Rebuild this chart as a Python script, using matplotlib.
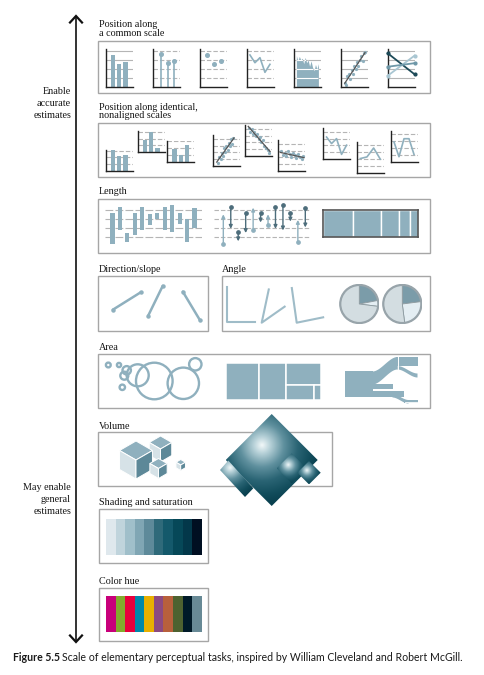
import numpy as np
import matplotlib
matplotlib.use("Agg")
import matplotlib.pyplot as plt
from matplotlib.patches import Rectangle, Polygon, Circle
from matplotlib.colors import LinearSegmentedColormap

# ---------------- data ----------------
# Position along a common scale
bar_vals = [3.56, 2.56, 2.78]
lollipop_vals = [3.63, 2.63, 2.89]
dot_vals = [3.6, 2.6, 2.85]
line_vals = [3.56, 2.7, 3.26, 1.63, 2.52]
area_vals = [3.5, 2.9, 3.4, 3.0, 3.2, 2.6, 3.3, 2.7, 3.0, 2.3, 2.9, 2.2, 1.8, 2.5, 2.0, 2.6]
scatter_x = [1.5, 2.0, 2.5, 3.1, 3.6, 4.0, 4.5, 5.0, 5.5, 6.0, 6.5, 7.0, 7.6, 8.1, 8.6, 9.0]
scatter_y = [0.5, 0.2, 1.2, 1.5, 0.9, 1.9, 1.4, 2.3, 2.0, 2.8, 2.3, 3.0, 3.5, 2.9, 3.8, 3.9]
slope_start = [3.75, 1.25, 2.25]
slope_end = [1.40, 3.50, 2.65]

# Position along identical, nonaligned scales
na_bars = [[3.1, 2.2, 2.35], [1.8, 3.0, 0.7], [1.85, 1.0, 2.45]]
na_scatter_x = [
    [1.8, 2.2, 2.9, 3.3, 3.8, 4.2, 4.6, 5.1, 5.5, 5.9, 6.4, 6.8, 7.2, 7.6],
    [1.5, 2.0, 2.6, 3.0, 3.5, 4.1, 4.6, 5.0, 5.6, 6.1, 6.6, 7.2, 7.8, 8.5, 9.0],
    [1.0, 1.6, 2.3, 2.9, 3.5, 4.2, 4.8, 5.4, 6.0, 6.7, 7.3, 8.0, 8.6, 9.2],
]
na_scatter_y = [
    [0.5, 1.3, 1.0, 1.9, 1.5, 2.6, 2.0, 2.9, 2.4, 3.4, 3.0, 3.9, 3.3, 4.1],
    [4.1, 3.6, 3.9, 3.2, 3.6, 2.9, 3.3, 2.5, 2.8, 2.0, 2.3, 1.5, 1.2, 0.9, 0.5],
    [2.9, 2.4, 2.7, 2.2, 2.9, 2.5, 2.0, 2.6, 2.3, 1.9, 2.5, 2.1, 1.7, 2.2],
]
na_lines = [[3.23, 2.27, 3.0, 0.68, 2.03], [2.08, 2.32, 3.63, 1.99], [2.9, 0.73, 3.38, 3.38, 1.07]]

# Length
float_low = [0.26, 1.73, 0.41, 1.25, 1.73, 2.35, 2.97, 1.73, 1.51, 2.46, 0.41, 2.00]
float_high = [3.63, 4.29, 1.44, 3.63, 4.29, 3.56, 3.63, 4.29, 4.55, 3.63, 3.00, 4.18]
arrow_start = [0.26, 4.37, 1.51, 3.63, 1.73, 3.63, 2.28, 4.37, 4.55, 3.63, 0.41, 4.18]
arrow_end = [3.52, 1.91, 0.52, 1.44, 4.26, 2.61, 3.52, 1.91, 1.73, 2.72, 2.90, 2.06]
stack_vals = [30, 28, 18, 11, 8]

# Direction / angle
slope_angles = [32, 64, -59]
angle_arms = [(0, 90), (35, 78), (11.5, 98)]
pie_a = [22, 5, 73]
pie_b = [23, 25, 52]

# Area
circle_r = [2.4, 2.1, 4.2, 4.0, 11.0, 18.3, 15.7, 6.2, 2.7]
treemap_vals = [10.6, 9.0, 6.8, 3.5, 0.9]

# Volume
cube_sizes = [13, 19, 10, 5.5]

# Shading / hue
shade_colors = ["#dfe8ed", "#c0d4dc", "#a0bfca", "#80a6b4", "#5e8a9a",
                "#2f6a7a", "#14596b", "#064858", "#03384a", "#000f22"]
hue_colors = ["#c8007a", "#82ac2c", "#e8003c", "#0088aa", "#e8b000",
              "#8c4a80", "#b8603c", "#4e6230", "#001a28", "#688a96"]

# ---------------- style ----------------
BLUE = "#8fb0be"
GRID = "#b5b5b5"
BOX = "#a6a6a6"
SERIF = "Liberation Serif"
TS = 7.3

W, H = 484, 675
fig = plt.figure(figsize=(W / 100, H / 100), dpi=100)
ax = fig.add_axes([0, 0, 1, 1])
ax.axis("off")


def sub(x, y, w, h):
    a = fig.add_axes([x / W, 1 - (y + h) / H, w / W, h / H])
    a.patch.set_alpha(0)
    a.set_xticks([])
    a.set_yticks([])
    return a


def mini(x, y, w, h, xlim, ylim, grid=(1, 2, 3, 4), dashed=False):
    a = sub(x, y, w, h)
    a.set_xlim(*xlim)
    a.set_ylim(*ylim)
    for s in ["top", "right"]:
        a.spines[s].set_visible(False)
    for s in ["left", "bottom"]:
        a.spines[s].set_color("#222222")
        a.spines[s].set_linewidth(1.0)
    for g in grid:
        a.axhline(g, color=GRID, lw=0.8, ls=(0, (4, 1.8)) if dashed else "-", zorder=0)
    return a


def box(x0, y0, x1, y1):
    ax.add_patch(Rectangle((x0, y0), x1 - x0, y1 - y0, fill=False, ec=BOX, lw=1.0, zorder=1))


def title(x, y, s):
    ax.text(x, y, s, fontfamily=SERIF, fontsize=TS, va="center", ha="left", color="#151515")


# ---------------- left arrow ----------------
ax.plot([76, 76], [17, 641], color="#111111", lw=1.2, solid_capstyle="butt")
ax.plot([70, 76, 82], [22.5, 16, 22.5], color="#111111", lw=1.6, solid_joinstyle="miter")
ax.plot([70, 76, 82], [635.5, 642, 635.5], color="#111111", lw=1.6, solid_joinstyle="miter")
for yy, s in zip([92, 104, 116], ["Enable", "accurate", "estimates"]):
    ax.text(71, yy, s, fontfamily=SERIF, fontsize=TS, ha="right", va="center", color="#151515")
for yy, s in zip([488, 499.5, 511], ["May enable", "general", "estimates"]):
    ax.text(71, yy, s, fontfamily=SERIF, fontsize=TS, ha="right", va="center", color="#151515")

# ---------------- Position along a common scale ----------------
title(99, 24.5, "Position along")
title(99, 34, "a common scale")
box(98, 41, 430, 93)
y0, hh, ww = 49, 38, 27
top = hh / 9.0
xs = [105.7 + 47 * i for i in range(7)]
cat = np.arange(3)

a = mini(xs[0], y0, ww, hh, (-1.1, 3.1), (0, top))
a.bar(cat, bar_vals, width=0.68, color=BLUE, zorder=2)

a = mini(xs[1], y0, ww, hh, (-1.2, 2.8), (0, top), dashed=True)
a.vlines(cat, 0, lollipop_vals, color=BLUE, lw=1.2, zorder=2)
a.plot(cat, lollipop_vals, "o", color=BLUE, ms=2.6, zorder=3)

a = mini(xs[2], y0, ww, hh, (-1.1, 2.9), (0, top), dashed=True)
a.plot(cat, dot_vals, "o", color=BLUE, ms=2.6, zorder=3)

a = mini(xs[3], y0, ww, hh, (-0.65, 4.75), (0, top), dashed=True)
a.plot(np.arange(len(line_vals)), line_vals, color=BLUE, lw=1.2, zorder=3)

a = mini(xs[4], y0, ww, hh, (-1.84, 16.57), (0, top))
ax_x = np.arange(len(area_vals))
poly = a.fill_between(ax_x, 0, area_vals, color=BLUE, lw=0, zorder=2)
for g in (1, 2, 3, 4):
    ln = a.axhline(g, color="white", lw=0.8, zorder=3)
    ln.set_clip_path(poly.get_paths()[0], poly.get_transform())

a = mini(xs[5], y0, ww, hh, (0, 10), (0, top))
a.plot(scatter_x, scatter_y, "o", color=BLUE, ms=1.3, zorder=2)
k, b = np.polyfit(scatter_x, scatter_y, 1)
lx = np.array([min(scatter_x), max(scatter_x)])
a.plot(lx, k * lx + b, color="#555555", lw=0.9, zorder=3)

a = mini(xs[6], y0, ww, hh, (0, 1), (0, top))
for s0, s1, c in zip(slope_start, slope_end, ["#1d4a58", "#a9c6d2", "#6f98a8"]):
    a.plot([0.0, 1.0], [s0, s1], color=c, lw=1.3, marker="o", ms=2, zorder=3, clip_on=False)

# ---------------- Position along identical, nonaligned scales ----------------
title(99, 107, "Position along identical,")
title(99, 116, "nonaligned scales")
box(98, 123, 430, 177)
U = 6.8
bar_pos = [(105.7, 150), (137.7, 131.3), (167.3, 140.7)]
for (x, y), vals in zip(bar_pos, na_bars):
    a = mini(x, y, 27, 21, (-1.1, 3.1), (0, 21 / U), grid=(1, 2, 3), dashed=True)
    a.bar(cat, vals, width=0.68, color=BLUE, zorder=2)

sc_pos = [(212.7, 135), (245, 125), (278.3, 140)]
for (x, y), sx, sy in zip(sc_pos, na_scatter_x, na_scatter_y):
    a = mini(x, y, 27, 31, (0, 10), (0, 31 / U), dashed=True)
    a.plot(sx, sy, "o", color=BLUE, ms=1.3, zorder=2)
    k, b = np.polyfit(sx, sy, 1)
    lx = np.array([min(sx) - 0.3, max(sx) + 0.3])
    a.plot(lx, k * lx + b, color="#555555", lw=0.9, zorder=3)

ln_pos = [(323.3, 128, (-0.65, 4.75)), (357.3, 141.7, (-0.45, 3.6)), (391.3, 130.7, (-0.54, 4.86))]
for (x, y, xl), vals in zip(ln_pos, na_lines):
    a = mini(x, y, 27, 31, xl, (0, 31 / U), dashed=True)
    a.plot(np.arange(len(vals)), vals, color=BLUE, lw=1.2, zorder=3)

# ---------------- Length ----------------
title(99, 192, "Length")
box(98, 199, 430, 253)
idx = np.arange(12)
a = sub(105, 201, 97, 45)
a.axis("off")
a.set_xlim(-1, 12)
a.set_ylim(0, 5)
for g in (1, 2, 3, 4):
    a.axhline(g, color=GRID, lw=0.8, ls=(0, (7, 2)), zorder=0)
a.bar(idx, np.array(float_high) - np.array(float_low), bottom=float_low, width=0.55, color=BLUE, zorder=2)

a = sub(214, 201, 96, 45)
a.axis("off")
a.set_xlim(-1.25, 11.63)
a.set_ylim(0, 5)
for g in (1, 2, 3, 4):
    a.axhline(g, color=GRID, lw=0.8, ls=(0, (4, 1.8)), zorder=0)
for i, s0, s1 in zip(idx, arrow_start, arrow_end):
    c = BLUE if s1 > s0 else "#4d6d7b"
    a.annotate("", xy=(i, s1), xytext=(i, s0),
               arrowprops=dict(arrowstyle="-|>", color=c, lw=1.0, mutation_scale=5,
                               shrinkA=0, shrinkB=0), zorder=3)
    a.plot(i, s0, "o", color=c, ms=2.4, zorder=3)

a = sub(323.3, 210, 95, 27.3)
cum = np.concatenate([[0], np.cumsum(stack_vals)[:-1]])
a.barh(0, stack_vals, left=cum, height=1, color=BLUE, edgecolor="white", lw=1.0)
a.set_xlim(0, sum(stack_vals))
a.set_ylim(-0.5, 0.5)
for s in a.spines.values():
    s.set_color("#555555")
    s.set_linewidth(1.2)
    s.set_zorder(5)

# ---------------- Direction / slope ----------------
title(99, 270, "Direction/slope")
box(98, 276, 208.3, 330.7)
dir_centers = [(126.8, 301), (155.5, 300.7), (191.3, 305.8)]
L = 33
for (cx, cy), ang in zip(dir_centers, slope_angles):
    t = np.deg2rad(ang)
    dx, dy = L / 2 * np.cos(t), -L / 2 * np.sin(t)
    ax.plot([cx - dx, cx + dx], [cy - dy, cy + dy], color=BLUE, lw=1.8,
            marker="o", ms=2.2, solid_capstyle="round", zorder=3)

# ---------------- Angle ----------------
title(221.7, 270, "Angle")
box(221.7, 276, 430, 330.7)
vertices = [(227.3, 321.7), (261.7, 322.7), (296.7, 322.7)]
arm_len = [(28, 35), (28, 34), (27, 35)]
for (vx, vy), (a0, a1), (l0, l1) in zip(vertices, angle_arms, arm_len):
    p0 = (vx + l0 * np.cos(np.deg2rad(a0)), vy - l0 * np.sin(np.deg2rad(a0)))
    p1 = (vx + l1 * np.cos(np.deg2rad(a1)), vy - l1 * np.sin(np.deg2rad(a1)))
    ax.plot([p0[0], vx, p1[0]], [p0[1], vy, p1[1]], color="#9fbcc8", lw=1.5, zorder=3)

pie_cols = ["#7b9ca9", "#e4eef3", "#d3dde1"]
for cx, vals in zip([359.3, 402.3], [pie_a, pie_b]):
    a = sub(cx - 20, 284, 40, 40)
    a.axis("off")
    a.pie(vals, colors=pie_cols, startangle=90, counterclock=False, radius=1,
          wedgeprops=dict(edgecolor="#8c9aa0", linewidth=0.6))
    a.add_patch(Circle((0, 0), 1, fill=False, ec="#98a4aa", lw=1.6))
    a.set_xlim(-1.05, 1.05)
    a.set_ylim(-1.05, 1.05)
    a.set_aspect("equal")

# ---------------- Area ----------------
title(99, 348, "Area")
box(98, 354.3, 430, 407.7)
circle_c = [(108.3, 365), (119, 365), (126.7, 370.3), (124.3, 375.7), (137.7, 375.3),
            (154.3, 381), (183.3, 383.3), (195.3, 364.3), (122.3, 387.3)]
for (cx, cy), r in zip(circle_c, circle_r):
    ax.add_patch(Circle((cx, cy), r, fill=False, ec=BLUE, lw=1.7, zorder=3))

# treemap
tx0, ty0, tw, th = 226, 362.7, 95, 37.3
tot = sum(treemap_vals)
wA = tw * treemap_vals[0] / tot
wB = tw * treemap_vals[1] / tot
wC = tw - wA - wB
rest = sum(treemap_vals[2:])
hC = th * treemap_vals[2] / rest
wD = wC * treemap_vals[3] / (treemap_vals[3] + treemap_vals[4])
rects = [(tx0, ty0, wA, th), (tx0 + wA, ty0, wB, th), (tx0 + wA + wB, ty0, wC, hC),
         (tx0 + wA + wB, ty0 + hC, wD, th - hC), (tx0 + wA + wB + wD, ty0 + hC, wC - wD, th - hC)]
for (rx, ry, rw, rh) in rects:
    ax.add_patch(Rectangle((rx, ry), rw, rh, fc=BLUE, ec="white", lw=1.1, zorder=3))

# sankey-like flows
def band(x0, x1, a0, a1, b0, b1, n=40):
    t = np.linspace(0, 1, n)
    s = 3 * t ** 2 - 2 * t ** 3
    xx = x0 + (x1 - x0) * t
    ax.fill_between(xx, a0 + (b0 - a0) * s, a1 + (b1 - a1) * s, color=BLUE, lw=0, zorder=3)

sankey_bands = [
    (345, 373, 371, 397, 371, 397),
    (372, 397, 371, 384, 356.5, 369),
    (396, 418, 356.5, 366, 356.5, 366),
    (397, 417, 365.5, 369, 373, 377),
    (372, 393, 383.5, 388.5, 383.5, 388.5),
    (372, 404, 391, 397, 391, 397),
    (392, 408, 393.5, 397, 399.5, 403),
    (404, 418, 400, 403, 400, 403),
]
for bd in sankey_bands:
    band(*bd)
ax.plot([398, 398], [357, 369], color="white", lw=0.7, zorder=4)
ax.plot([405, 418], [401.5, 401.5], color="white", lw=0.6, zorder=4)

# ---------------- Volume ----------------
title(99, 426.7, "Volume")
box(98, 431.7, 331.7, 485.7)

def cube(cx, cy, s):
    c = np.cos(np.pi / 6)
    topf = [(cx, cy), (cx - s * c, cy - s / 2), (cx, cy - s), (cx + s * c, cy - s / 2)]
    left = [(cx, cy), (cx - s * c, cy - s / 2), (cx - s * c, cy + s / 2), (cx, cy + s)]
    right = [(cx, cy), (cx + s * c, cy - s / 2), (cx + s * c, cy + s / 2), (cx, cy + s)]
    for pts, col in [(topf, "#8fb0be"), (left, "#d6e2e7"), (right, "#5d8898")]:
        ax.add_patch(Polygon(pts, closed=True, fc=col, ec="white", lw=0.7, zorder=3))

cube_centers = [(160.5, 449), (136, 460), (158.5, 468.5), (180.7, 465)]
for (cx, cy), s in zip(cube_centers, cube_sizes):
    cube(cx, cy, s)

gcmap = LinearSegmentedColormap.from_list(
    "g", [(0, "#f2f8f9"), (0.14, "#b8d2d9"), (0.38, "#5f909e"), (0.62, "#2a6474"),
          (0.85, "#124d5c"), (1, "#0a4150")])


def gpoly(verts, hx, hy, rad):
    verts = np.array(verts)
    x0, y0 = verts.min(axis=0)
    x1, y1 = verts.max(axis=0)
    n = 200
    gx, gy = np.meshgrid(np.linspace(x0, x1, n), np.linspace(y0, y1, n))
    d = np.clip(np.hypot(gx - hx, gy - hy) / rad, 0, 1)
    im = ax.imshow(d, cmap=gcmap, vmin=0, vmax=1, extent=(x0, x1, y1, y0),
                   origin="upper", aspect="auto", zorder=4, interpolation="bilinear")
    p = Polygon(verts, closed=True, transform=ax.transData)
    im.set_clip_path(p)


def diamond(cx, cy, hd):
    return [(cx, cy - hd), (cx + hd, cy), (cx, cy + hd), (cx - hd, cy)]

gpoly(diamond(271.7, 460, 46), 261.7, 445, 58)
gpoly([(220, 470), (228.3, 460.5), (253.3, 488.3), (245, 497)], 230, 468, 30)
gpoly(diamond(291.7, 468.3, 15), 288, 465, 19)
gpoly(diamond(309, 472.7, 11.7), 307, 471, 14)

# ---------------- Shading and saturation ----------------
title(99, 502.3, "Shading and saturation")
box(98.7, 509.3, 208.3, 563.3)
a = sub(106, 519, 95.7, 36)
a.axis("off")
a.bar(np.arange(len(shade_colors)), 1, width=1.0, color=shade_colors)
a.set_xlim(-0.5, len(shade_colors) - 0.5)
a.set_ylim(0, 1)

# ---------------- Color hue ----------------
title(99, 581, "Color hue")
box(98.7, 587.7, 208.3, 641)
a = sub(106, 596, 95.7, 36.3)
a.axis("off")
a.bar(np.arange(len(hue_colors)), 1, width=1.0, color=hue_colors)
a.set_xlim(-0.5, len(hue_colors) - 0.5)
a.set_ylim(0, 1)

ax.set_xlim(0, W)
ax.set_ylim(H, 0)

# ---------------- caption ----------------
t1 = ax.text(13, 657.5, "Figure 5.5", fontfamily="Lato", fontweight="bold", fontsize=7.6,
             va="center", ha="left", color="#1a1a1a")
fig.canvas.draw()
bb = t1.get_window_extent()
xe = ax.transData.inverted().transform((bb.x1, bb.y0))[0]
ax.text(xe + 2.5, 657.5, "Scale of elementary perceptual tasks, inspired by William Cleveland and Robert McGill.",
        fontfamily="Lato", fontsize=7.6, va="center", ha="left", color="#1a1a1a")

fig.savefig("out.png", dpi=100, facecolor="white")
